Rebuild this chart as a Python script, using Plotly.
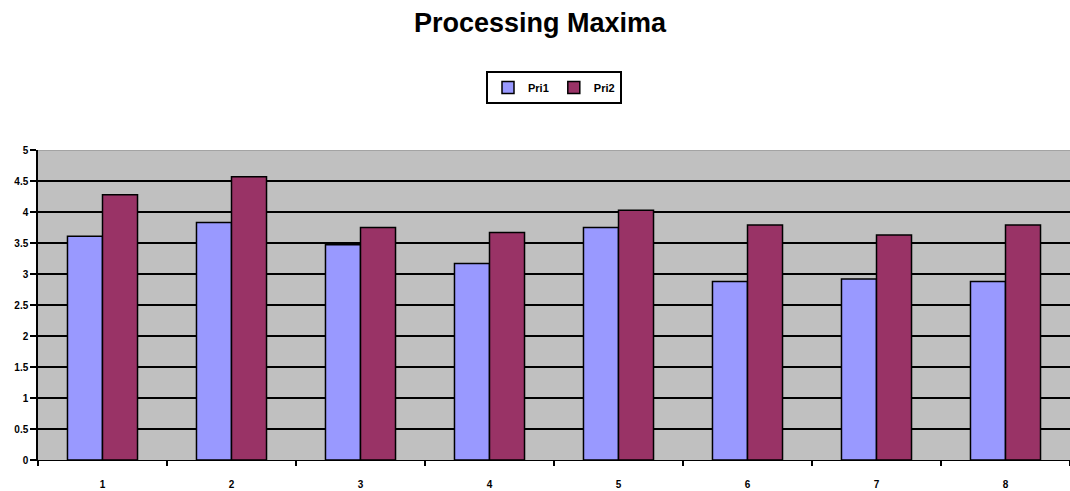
import plotly.graph_objects as go

# Series data
categories = ["1", "2", "3", "4", "5", "6", "7", "8"]
pri1 = [3.61, 3.83, 3.47, 3.17, 3.75, 2.88, 2.92, 2.88]
pri2 = [4.28, 4.57, 3.75, 3.67, 4.03, 3.79, 3.63, 3.79]
y_ticks = [0, 0.5, 1, 1.5, 2, 2.5, 3, 3.5, 4, 4.5, 5]
y_tick_text = ["0", "0.5", "1", "1.5", "2", "2.5", "3", "3.5", "4", "4.5", "5"]

FONT = "Liberation Sans Narrow, Arial Narrow, Liberation Sans, Arial, sans-serif"

fig = go.Figure()
fig.add_trace(go.Bar(
    x=categories, y=pri1, name="Pri1",
    marker=dict(color="#9999FF", line=dict(color="black", width=1.5)),
))
fig.add_trace(go.Bar(
    x=categories, y=pri2, name="Pri2",
    marker=dict(color="#993366", line=dict(color="black", width=1.5)),
))

fig.update_layout(
    width=1070, height=491,
    margin=dict(l=38, r=0, t=150, b=31),
    paper_bgcolor="white",
    plot_bgcolor="#C0C0C0",
    barmode="group",
    bargap=0.457,
    bargroupgap=0,
    title=dict(
        text="Processing Maxima",
        font=dict(family="Liberation Sans, Arial, sans-serif", size=27, color="black", weight="bold"),
        x=0.5047, xanchor="center", xref="container",
        y=1 - 23 / 491, yanchor="middle", yref="container",
    ),
    legend=dict(
        orientation="h",
        x=0.5, xanchor="center", xref="paper",
        y=1.2016, yanchor="middle", yref="paper",
        bordercolor="black", borderwidth=2,
        bgcolor="white",
        font=dict(family=FONT, size=11, color="black", weight="bold"),
        itemwidth=30,
    ),
    xaxis=dict(
        type="category",
        showgrid=False,
        showline=True, linecolor="black", linewidth=1,
        ticks="outside", tickson="boundaries", ticklen=5, tickcolor="black", tickwidth=1.5,
        tickfont=dict(family=FONT, size=10, color="black", weight="bold"),
        ticklabelstandoff=15,
        fixedrange=True,
    ),
    yaxis=dict(
        range=[0, 5],
        tickvals=y_ticks, ticktext=y_tick_text,
        showgrid=True, gridcolor="black", gridwidth=1.5,
        showline=True, linecolor="black", linewidth=1.5,
        ticks="outside", ticklen=6, tickcolor="black", tickwidth=1.5,
        tickfont=dict(family=FONT, size=10, color="black", weight="bold"),
        zeroline=False,
        fixedrange=True,
    ),
    shapes=[dict(
        type="line", xref="paper", yref="y",
        x0=0, x1=1, y0=5, y1=5,
        line=dict(color="#9A9A9A", width=1.5),
        layer="above",
    )],
)

fig.write_html("out.html")
